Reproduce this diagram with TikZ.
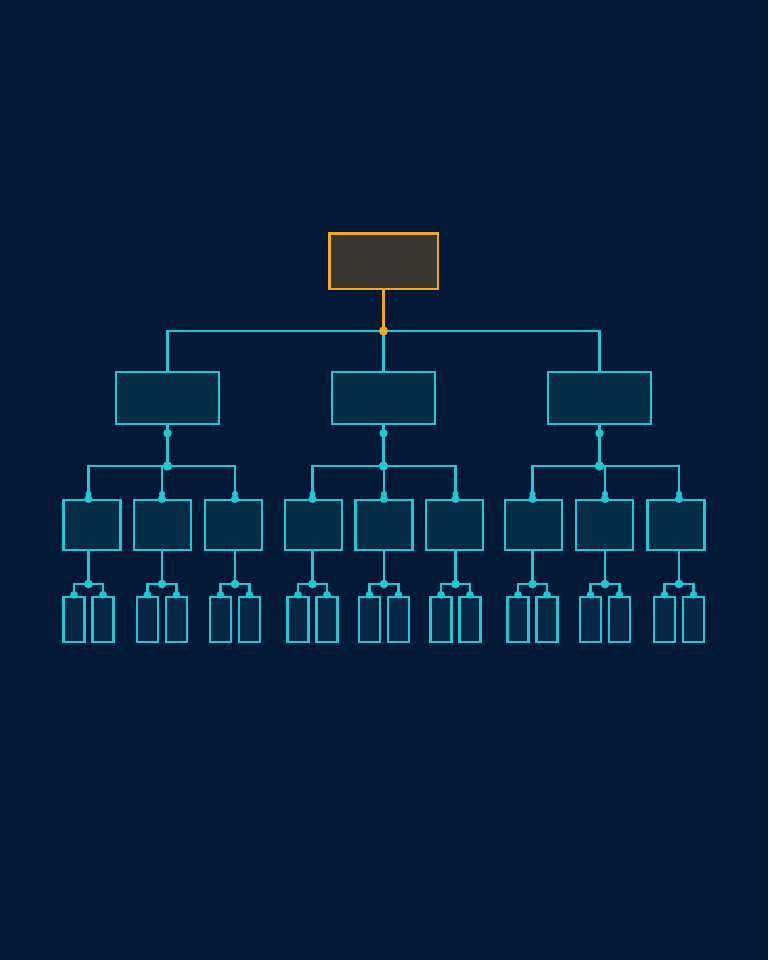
\documentclass[tikz,border=0pt]{standalone}
\usepackage{tikz}
\usetikzlibrary{calc}

\definecolor{bgnavy}{HTML}{021A37}
\definecolor{linecyan}{HTML}{20C6D2}
\definecolor{boxfill}{HTML}{062D47}
\definecolor{leaffill}{HTML}{052745}
\definecolor{rootorange}{HTML}{F2A91F}
\definecolor{rootfill}{HTML}{37362F}

\begin{document}
\begin{tikzpicture} [x=0.02cm, y=-0.02cm,
    root/.style={draw=rootorange, fill=rootfill, line width=1.7pt, inner sep=0pt,
                 minimum width=2.18cm, minimum height=1.12cm},
    mid/.style={draw=linecyan, fill=boxfill, line width=1.4pt, inner sep=0pt,
                minimum width=2.06cm, minimum height=1.04cm},
    sub/.style={draw=linecyan, fill=boxfill, line width=1.4pt, inner sep=0pt,
                minimum width=1.14cm, minimum height=1.0cm},
    leaf/.style={draw=linecyan, fill=leaffill, line width=1.4pt, inner sep=0pt,
                 minimum width=0.42cm, minimum height=0.9cm},
    link/.style={draw=linecyan, line width=1.2pt},
    rootlink/.style={draw=rootorange, line width=1.2pt}]
    \fill[bgnavy] (0,0) rectangle (768,960);

    \node[root] (ceo) at (383.5,261) {};
    \coordinate (hub) at (383.5,331);
    \foreach \i/\x in {1/167.5,2/383.5,3/599.5} {
        \node[mid] (m\i) at (\x,398) {};
        \coordinate (j\i) at (\x,466);
        \draw[link] (hub) -| (m\i.north);
        \draw[link] (m\i.south) -- (j\i);
        \fill[linecyan] ($(m\i.south)+(0,8)$) circle[radius=2.4pt];
    }
    \draw[rootlink] (ceo.south) -- (hub);
    \fill[rootorange] (hub) circle[radius=2.6pt];

    % second row and leaves
    \foreach \i/\k/\x/\s in {1/1/92/88.5, 1/2/162.5/162, 1/3/233.5/235,
                             2/1/313.5/312.5, 2/2/384/384, 2/3/454.5/455.5,
                             3/1/533.5/532.5, 3/2/604.5/605, 3/3/676/679} {
        \node[sub] (s\i\k) at (\x,525) {};
        \coordinate (in\i\k) at (\s,500);
        \coordinate (out\i\k) at (\s,550);
        \coordinate (t\i\k) at (\s,584);
        \node[leaf] (l\i\k a) at (\s-14.5,619.5) {};
        \node[leaf] (l\i\k b) at (\s+14.5,619.5) {};
        \draw[link] (j\i) -| (in\i\k);
        \draw[link] (out\i\k) -- (t\i\k);
        \draw[link] (t\i\k) -| ($(l\i\k a.north)+(0,-1)$);
        \draw[link] (t\i\k) -| ($(l\i\k b.north)+(0,-1)$);
        \fill[linecyan] ($(in\i\k)+(0,-6)$) circle[radius=1.8pt];
        \fill[linecyan] ($(in\i\k)+(0,-1)$) circle[radius=2.3pt];
        \fill[linecyan] ($(l\i\k a.north)+(0,-1)$) circle[radius=2.2pt];
        \fill[linecyan] ($(l\i\k b.north)+(0,-1)$) circle[radius=2.2pt];
        \fill[linecyan] (t\i\k) circle[radius=2.5pt];
    }
    \foreach \i in {1,2,3}
        \fill[linecyan] (j\i) circle[radius=2.7pt];
\end{tikzpicture}
\end{document}
